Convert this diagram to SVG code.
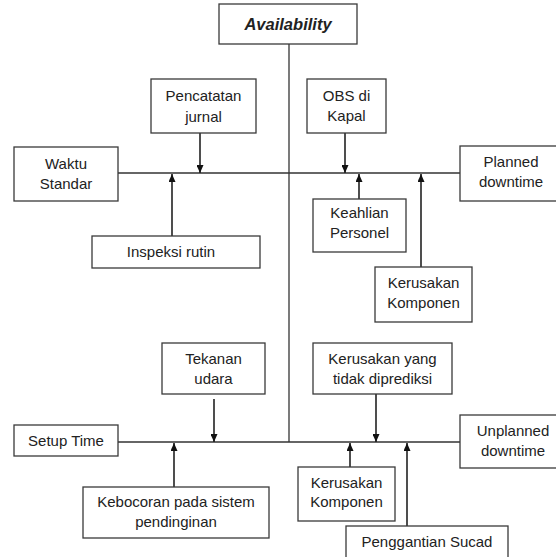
<svg xmlns="http://www.w3.org/2000/svg" width="556" height="557" viewBox="0 0 556 557">
<style>
.box{fill:#fff;stroke:#3a3a3a;stroke-width:1.3}
.ln{stroke:#333;stroke-width:1.3;fill:none}
.ar{stroke:#222;stroke-width:1.6;fill:none;marker-end:url(#ah)}
text{font-family:"Liberation Sans",Arial,sans-serif;font-size:15px;fill:#222;text-anchor:middle}
.title{font-weight:bold;font-style:italic;font-size:16.5px}
</style>
<defs>
<marker id="ah" viewBox="0 0 8 7" refX="8" refY="3.5" markerWidth="8" markerHeight="7" markerUnits="userSpaceOnUse" orient="auto">
<path d="M0,0 L8,3.5 L0,7 z" fill="#111"/>
</marker>
</defs>
<rect width="556" height="557" fill="#fff"/>
<g id="connectors">
<line class="ln" x1="289" y1="44" x2="289" y2="442"/>
<line class="ln" x1="118" y1="173" x2="460" y2="173"/>
<line class="ln" x1="118" y1="442" x2="460" y2="442"/>
<line class="ar" x1="200" y1="133" x2="200" y2="173"/>
<line class="ar" x1="172" y1="236" x2="172" y2="174"/>
<line class="ar" x1="345" y1="133" x2="345" y2="173"/>
<line class="ar" x1="359" y1="199" x2="359" y2="174"/>
<line class="ar" x1="421" y1="267" x2="421" y2="174"/>
<line class="ar" x1="214" y1="399" x2="214" y2="442"/>
<line class="ar" x1="174" y1="487" x2="174" y2="443"/>
<line class="ar" x1="376" y1="394" x2="376" y2="442"/>
<line class="ar" x1="350" y1="467" x2="350" y2="443"/>
<line class="ar" x1="407" y1="526" x2="407" y2="443"/>
</g>
<g id="availability"><rect class="box" x="219" y="4" width="138" height="40"/><text class="title" x="288" y="30">Availability</text></g>
<g id="waktu-standar"><rect class="box" x="14" y="147" width="104" height="54"/><text x="66" y="169">Waktu</text><text x="66" y="189">Standar</text></g>
<g id="pencatatan-jurnal"><rect class="box" x="151" y="79" width="105" height="54"/><text x="203.5" y="101">Pencatatan</text><text x="203.5" y="122">jurnal</text></g>
<g id="inspeksi-rutin"><rect class="box" x="92" y="236" width="168" height="32"/><text x="171" y="257">Inspeksi rutin</text></g>
<g id="obs-di-kapal"><rect class="box" x="307" y="79" width="79" height="54"/><text x="346.5" y="101">OBS di</text><text x="346.5" y="121">Kapal</text></g>
<g id="planned-downtime"><rect class="box" x="460" y="146" width="110" height="55"/><text x="511" y="167">Planned</text><text x="511" y="187">downtime</text></g>
<g id="keahlian-personel"><rect class="box" x="313" y="199" width="93" height="53"/><text x="359.5" y="218">Keahlian</text><text x="359.5" y="238">Personel</text></g>
<g id="kerusakan-komponen-1"><rect class="box" x="375" y="267" width="97" height="55"/><text x="423.5" y="288">Kerusakan</text><text x="423.5" y="308">Komponen</text></g>
<g id="setup-time"><rect class="box" x="14" y="425" width="104" height="31"/><text x="66" y="446">Setup Time</text></g>
<g id="tekanan-udara"><rect class="box" x="162" y="343" width="103" height="51"/><text x="213.5" y="364">Tekanan</text><text x="213.5" y="384">udara</text></g>
<g id="kebocoran"><rect class="box" x="83" y="487" width="186" height="51"/><text x="176" y="507">Kebocoran pada sistem</text><text x="176" y="527">pendinginan</text></g>
<g id="kerusakan-tidak-diprediksi"><rect class="box" x="313" y="343" width="139" height="51"/><text x="382.5" y="364">Kerusakan yang</text><text x="382.5" y="384">tidak diprediksi</text></g>
<g id="unplanned-downtime"><rect class="box" x="460" y="415" width="110" height="53"/><text x="513" y="436">Unplanned</text><text x="513" y="456">downtime</text></g>
<g id="kerusakan-komponen-2"><rect class="box" x="298" y="467" width="97" height="54"/><text x="346.5" y="488">Kerusakan</text><text x="346.5" y="507">Komponen</text></g>
<g id="penggantian-sucad"><rect class="box" x="346" y="526" width="162" height="40"/><text x="427" y="547">Penggantian Sucad</text></g>
</svg>
